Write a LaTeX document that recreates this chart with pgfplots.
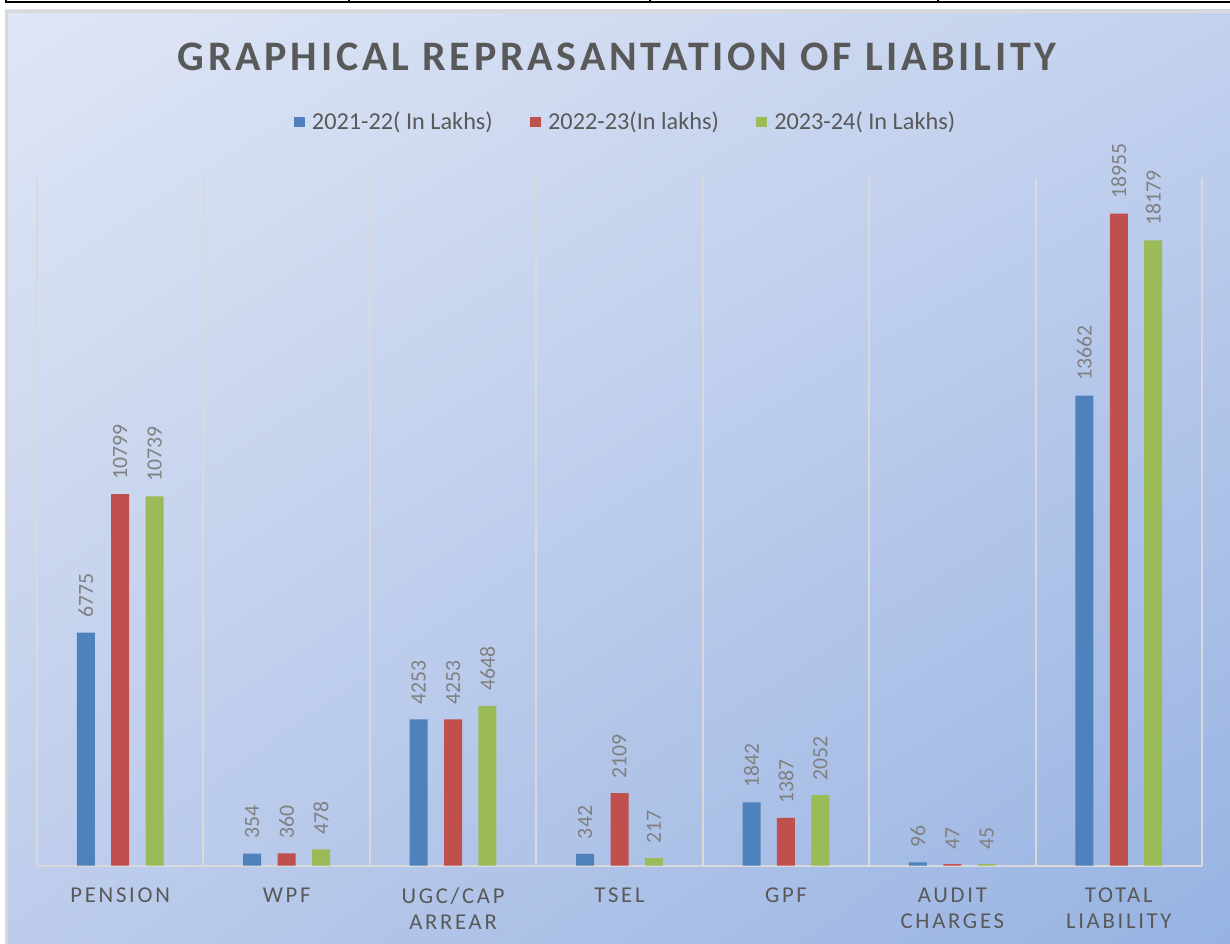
\documentclass[border=0pt]{standalone}
\usepackage{fontspec}
\setmainfont{Carlito}
\newfontfamily\catfont[LetterSpace=12]{Carlito}
\newfontfamily\titlefont[LetterSpace=9]{Carlito}
\usepackage{pgfplots}
\usetikzlibrary{shadings,backgrounds}
\pgfplotsset{compat=1.18}
\definecolor{bblue}{HTML}{4F81BD}
\definecolor{bred}{HTML}{C0504D}
\definecolor{bgreen}{HTML}{9BBB59}
\definecolor{txt}{HTML}{595959}
\definecolor{lbl}{HTML}{808080}
\definecolor{grd}{HTML}{D9D9D9}
\definecolor{bgUL}{HTML}{DFE6F5}
\definecolor{bgUR}{HTML}{C3D1EE}
\definecolor{bgLL}{HTML}{BDCCEB}
\definecolor{bgLR}{HTML}{97B3E2}
\begin{document}
\begin{tikzpicture}[x=0.75pt,y=0.75pt]
\begin{axis}[
  width=873.75pt, height=516pt, scale only axis,
  xmin=-0.5, xmax=6.5, ymin=0, ymax=20000,
  clip=false,
  ybar=12.3pt, bar width=13.5pt,
  axis x line=bottom, axis y line=none,
  axis line style={grd, line width=1.5pt, -},
  xtick={0,...,6},
  xticklabels={PENSION, WPF, {UGC/CAP\\ARREAR}, TSEL, GPF, {AUDIT\\CHARGES}, {TOTAL\\LIABILITY}},
  minor xtick={-0.5,0.5,1.5,2.5,3.5,4.5,5.5,6.5},
  xminorgrids=true,
  minor grid style={grd, line width=1.5pt},
  major tick length=0pt, minor tick length=0pt,
  ytick=\empty,
  xticklabel style={font=\catfont\fontsize{17}{19.5}\selectfont, text=txt, align=center, yshift=-13pt},
  /pgf/number format/assume math mode=true,
  /pgf/number format/1000 sep={},
  nodes near coords,
  every node near coord/.append style={rotate=90, anchor=west, font=\fontsize{16.3}{18}\selectfont, text=lbl, inner xsep=11pt},
  legend style={at={(0.5055,1.081)}, anchor=center, draw=none, fill=none, legend columns=3,
    font=\fontsize{18.2}{21}\selectfont, nodes={text=txt},
    /tikz/every even column/.append style={column sep=26pt}},
  legend image code/.code={\fill[#1, draw=none] (0pt,-4.1pt) rectangle (8.25pt,4.1pt);\path (0pt,0pt) -- (11.5pt,0pt);},
]
\addplot[fill=bblue, draw=none] coordinates {(0,6775) (1,354) (2,4253) (3,342) (4,1842) (5,96) (6,13662)};
\addplot[fill=bred, draw=none] coordinates {(0,10799) (1,360) (2,4253) (3,2109) (4,1387) (5,47) (6,18955)};
\addplot[fill=bgreen, draw=none] coordinates {(0,10739) (1,478) (2,4648) (3,217) (4,2052) (5,45) (6,18179)};
\legend{2021-22( In Lakhs), 2022-23(In lakhs), 2023-24( In Lakhs)}
\coordinate (O) at (axis cs:-0.5,0);
\end{axis}
\begin{scope}[on background layer, shift={(O)}, shift={(-37,-77.3)}]
\shade[upper left=bgUL, upper right=bgUR, lower left=bgLL, lower right=bgLR] (6,0) rectangle (1230,933);
\draw[grd, line width=2.25pt] (6.5,-5) -- (6.5,931.5) -- (1235,931.5);
\draw[black, line width=2.2pt] (5,941) -- (1235,941);
\foreach \xx in {6,349,650,938} \draw[black, line width=0.9pt] (\xx,941) -- (\xx,946);
\node[font=\titlefont\bfseries\fontsize{31.5}{36}\selectfont, text=txt] at (617,886.5) {GRAPHICAL REPRASANTATION OF LIABILITY};
\pgfresetboundingbox
\useasboundingbox (0,0) rectangle (1230,943);
\end{scope}
\end{tikzpicture}
\end{document}
